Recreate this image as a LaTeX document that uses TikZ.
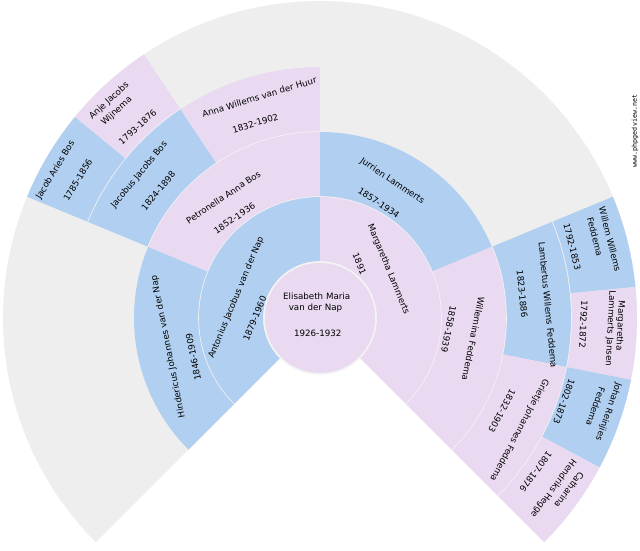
\documentclass[tikz,border=0pt]{standalone}
\usepackage{fontspec}
\setmainfont{DejaVu Sans}
\newfontfamily\wmfont{DejaVu Sans Mono}
\definecolor{male}{HTML}{B1CFF0}
\definecolor{female}{HTML}{E9DAF1}
\definecolor{bgfan}{HTML}{EEEEEE}
\definecolor{sepcol}{HTML}{F3F3F3}
\tikzset{
  sep/.style={draw=sepcol, line width=1.6pt},
  lbl/.style={inner sep=0pt, anchor=center, font=\fontsize{8.7}{10}\selectfont, text=black},
  wm/.style={inner sep=0pt, anchor=center, font=\wmfont\fontsize{6.7}{8}\selectfont, text=black},
}
\newcommand\fancell[5]{%
  \fill[#1] (#4:#2) arc[start angle=#4,end angle=#5,radius=#2] -- (#5:#3) arc[start angle=#5,end angle=#4,radius=#3] -- cycle;
  \draw[sep] (#4:#2) arc[start angle=#4,end angle=#5,radius=#2];
}
\begin{document}
\begin{tikzpicture}[x=1pt,y=1pt]
\useasboundingbox (0,0) rectangle (640,550);
\begin{scope}[shift={(320,232)}]
  % background of the fan
  \fill[bgfan] (0,0) -- (-45:317) arc[start angle=-45,end angle=225,radius=317] -- cycle;
  % generation 4
  \fancell{male}{251}{317}{140.625}{157.5}
  \fancell{female}{251}{317}{123.75}{140.625}
  \fancell{male}{251}{317}{5.625}{22.5}
  \fancell{female}{251}{317}{-11.25}{5.625}
  \fancell{male}{251}{317}{-28.125}{-11.25}
  \fancell{female}{251}{317}{-45}{-28.125}
  % generation 3
  \fancell{male}{186}{251}{123.75}{157.5}
  \fancell{female}{186}{251}{90}{123.75}
  \fancell{male}{186}{251}{-11.25}{22.5}
  \fancell{female}{186}{251}{-45}{-11.25}
  % generation 2
  \fancell{male}{121}{186}{157.5}{225}
  \fancell{female}{121}{186}{90}{157.5}
  \fancell{male}{121}{186}{22.5}{90}
  \fancell{female}{121}{186}{-45}{22.5}
  % generation 1
  \fancell{male}{56}{121}{90}{225}
  \fancell{female}{56}{121}{-45}{90}
  % root
  \fill[female] (0,0) circle[radius=56];
  \draw[sep] (0,0) circle[radius=56];
\end{scope}
% root
\node[lbl] (p1a) at (316.7,254) {Elisabeth Maria};
\node[lbl] (p1b) at (315.5,242.3) {van der Nap};
\node[lbl] (p1c) at (317.8,216.3) {1926-1932};
% Antonius
\node[lbl,rotate=67.5] (p2a) at (236.2,252.5) {Antonius Jacobus van der Nap};
\node[lbl,rotate=67.5] (p2b) at (254.7,231.5) {1879-1960};
% Margaretha
\node[lbl,rotate=-67.5] (p3a) at (388.3,280.8) {Margaretha Lammerts};
\node[lbl,rotate=-67.5] (p3b) at (359.5,286.2) {1891};
% Hindericus
\node[lbl,rotate=101.25] (p4a) at (168.3,203.3) {Hindericus Johannes van der Nap};
\node[lbl,rotate=101.25] (p4b) at (193.3,193) {1846-1909};
% Petronella
\node[lbl,rotate=33.75] (p5a) at (223.3,352.8) {Petronella Anna Bos};
\node[lbl,rotate=33.75] (p5b) at (234.5,331.7) {1852-1936};
% Jurrien
\node[lbl,rotate=-33.75] (p6a) at (392.2,368.8) {Jurrien Lammerts};
\node[lbl,rotate=-33.75] (p6b) at (378.8,347) {1857-1934};
% Willemina
\node[lbl,rotate=-101.25] (p7a) at (473.3,211.2) {Willemina Feddema};
\node[lbl,rotate=-101.25] (p7b) at (448.7,220.8) {1858-1939};
% Jacobus
\node[lbl,rotate=50.625] (p10a) at (139.2,375) {Jacobus Jacobs Bos};
\node[lbl,rotate=50.625] (p10b) at (158.3,359.2) {1824-1898};
% Anna
\node[lbl,rotate=16.875] (p11a) at (259.3,453) {Anna Willems van der Huur};
\node[lbl,rotate=16.875] (p11b) at (255.3,426.7) {1832-1902};
% Lambertus
\node[lbl,rotate=-84.375] (p14a) at (548,245) {Lambertus Willems Feddema};
\node[lbl,rotate=-84.375] (p14b) at (522.2,256) {1823-1886};
% Grietje
\node[lbl,rotate=-118.125] (p15a) at (519.2,120) {Grietje Johannes Feddema};
\node[lbl,rotate=-118.125] (p15b) at (502,138.8) {1832-1903};
% Jacob Aries Bos
\node[lbl,rotate=59.06] (p20a) at (55.5,380) {Jacob Aries Bos};
\node[lbl,rotate=59.06] (p20b) at (77.8,370) {1785-1856};
% Anje
\node[lbl,rotate=42.19] (p21a) at (109.2,449.2) {Anje Jacobs};
\node[lbl,rotate=42.19] (p21b) at (116.7,438.7) {Wijnema};
\node[lbl,rotate=42.19] (p21c) at (137.5,423) {1793-1876};
% Willem Willems
\node[lbl,rotate=-75.94] (p28a) at (610,310.8) {Willem Willems};
\node[lbl,rotate=-75.94] (p28b) at (595,313.3) {Feddema};
\node[lbl,rotate=-75.94] (p28c) at (572.2,303.3) {1792-1853};
% Margaretha Lammerts Jansen
\node[lbl,rotate=-92.81] (p29a) at (620,224.2) {Margaretha};
\node[lbl,rotate=-92.81] (p29b) at (610,221.7) {Lammerts Jansen};
\node[lbl,rotate=-92.81] (p29c) at (583.3,225.8) {1792-1872};
% Johan Reinjies
\node[lbl,rotate=-109.69] (p30a) at (608.3,138.3) {Johan Reinjies};
\node[lbl,rotate=-109.69] (p30b) at (595.7,143.3) {Feddema};
\node[lbl,rotate=-109.69] (p30c) at (564,148.3) {1802-1873};
% Catharina
\node[lbl,rotate=-126.56] (p31a) at (569.3,60) {Catharina};
\node[lbl,rotate=-126.56] (p31b) at (553.3,61.7) {Hendriks Hegge};
\node[lbl,rotate=-126.56] (p31c) at (535.7,78.3) {1807-1876};
% watermark
\node[wm,rotate=90] (wmk) at (635,419) {www.phpgedview.net};
\end{tikzpicture}
\end{document}
